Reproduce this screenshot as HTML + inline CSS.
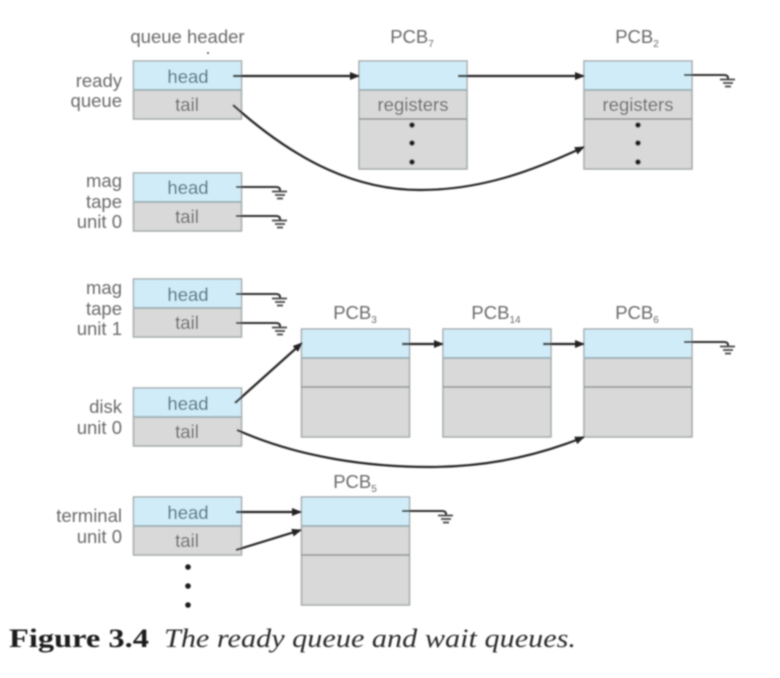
<!DOCTYPE html>
<html>
<head>
<meta charset="utf-8">
<style>
html,body{margin:0;padding:0;background:#fff;width:780px;height:678px;overflow:hidden}
svg{display:block}
.l{font-family:"Liberation Sans",sans-serif;font-size:18.5px;fill:#6a6a6a}
.h{font-family:"Liberation Sans",sans-serif;font-size:18.5px;fill:#4a6c7e;text-anchor:middle}
.t{font-family:"Liberation Sans",sans-serif;font-size:18.5px;fill:#666;text-anchor:middle}
.r{text-anchor:end}
.m{text-anchor:middle}
.s{font-size:10px}
</style>
</head>
<body>
<svg width="780" height="678" viewBox="0 0 780 678" xmlns="http://www.w3.org/2000/svg">
<defs>
<filter id="b" x="-5%" y="-5%" width="110%" height="110%"><feGaussianBlur stdDeviation="0.7"/></filter>
<marker id="a" markerWidth="10" markerHeight="8" refX="9" refY="4" orient="auto" markerUnits="userSpaceOnUse"><path d="M0 0L10 4L0 8Z" fill="#222"/></marker>
<g id="g"><path d="M0 0H40Q44 0 44 3V4" fill="none" stroke="#2e2e2e" stroke-width="2"/><path d="M36 4.500H51M39 8H49M41 11.500H47" stroke="#444" stroke-width="1.800" fill="none"/></g>
<g id="q"><rect x="0" y="0" width="108" height="58" fill="#d9d9d9" stroke="#a3a9aa" stroke-width="1.500"/><rect x="0.700" y="0.700" width="106.600" height="28" fill="#d0ecf8"/><path d="M0 29H108" stroke="#9fb1b7" stroke-width="2"/></g>
<g id="p"><rect x="0" y="0" width="108" height="108" fill="#d9d9d9" stroke="#a3a9aa" stroke-width="1.500"/><rect x="0.700" y="0.700" width="106.600" height="28" fill="#d0ecf8"/><path d="M0 29H108" stroke="#9fb1b7" stroke-width="2"/><path d="M0 58H108" stroke="#8e9293" stroke-width="1.600"/></g>
</defs>
<rect width="780" height="678" fill="#fff"/>
<g filter="url(#b)">
<use href="#q" x="133.500" y="61"/>
<use href="#q" x="133.500" y="173"/>
<use href="#q" x="133.500" y="279"/>
<use href="#q" x="133.500" y="388"/>
<use href="#q" x="133.500" y="497"/>
<use href="#p" x="359" y="61"/>
<use href="#p" x="584" y="61"/>
<use href="#p" x="301.500" y="329"/>
<use href="#p" x="443" y="329"/>
<use href="#p" x="584" y="329"/>
<use href="#p" x="301.500" y="497"/>

<g>
<text class="l m" x="187.500" y="43">queue header</text>
<text class="l m" x="412" y="43">PCB<tspan class="s" dy="4">7</tspan></text>
<text class="l m" x="637" y="43">PCB<tspan class="s" dy="4">2</tspan></text>
<text class="l m" x="355" y="319">PCB<tspan class="s" dy="4">3</tspan></text>
<text class="l m" x="496" y="319">PCB<tspan class="s" dy="4">14</tspan></text>
<text class="l m" x="637" y="319">PCB<tspan class="s" dy="4">6</tspan></text>
<text class="l m" x="355" y="488">PCB<tspan class="s" dy="4">5</tspan></text>

<text class="l r" x="122" y="87">ready</text>
<text class="l r" x="122" y="107">queue</text>
<text class="l r" x="122" y="187">mag</text>
<text class="l r" x="122" y="208">tape</text>
<text class="l r" x="122" y="228">unit 0</text>
<text class="l r" x="122" y="294">mag</text>
<text class="l r" x="122" y="315">tape</text>
<text class="l r" x="122" y="335">unit 1</text>
<text class="l r" x="122" y="413">disk</text>
<text class="l r" x="122" y="434">unit 0</text>
<text class="l r" x="122" y="522">terminal</text>
<text class="l r" x="122" y="543">unit 0</text>

<text class="h" x="188" y="83">head</text><text class="t" x="187" y="111">tail</text>
<text class="h" x="188" y="194">head</text><text class="t" x="187" y="223">tail</text>
<text class="h" x="188" y="301">head</text><text class="t" x="187" y="329">tail</text>
<text class="h" x="188" y="410">head</text><text class="t" x="187" y="438">tail</text>
<text class="h" x="188" y="519">head</text><text class="t" x="187" y="547">tail</text>

<text class="t" x="413" y="111">registers</text>
<text class="t" x="638" y="111">registers</text>
</g>

<g fill="#1c1c1c">
<circle cx="412" cy="125" r="2.800"/><circle cx="412" cy="143" r="2.800"/><circle cx="412" cy="162" r="2.800"/>
<circle cx="638" cy="125" r="2.800"/><circle cx="638" cy="143" r="2.800"/><circle cx="638" cy="162" r="2.800"/>
<circle cx="188" cy="567" r="2.800"/><circle cx="188" cy="586" r="2.800"/><circle cx="188" cy="605" r="2.800"/>
<circle cx="208" cy="53" r="0.900"/>
</g>

<g fill="none" stroke="#262626" stroke-width="2.200">
<path d="M233 76H359" marker-end="url(#a)"/>
<path d="M458 76H584" marker-end="url(#a)"/>
<path d="M233 105C300 165 360 190 420 190C480 190 530 172 584 147" marker-end="url(#a)"/>
<path d="M402 344H443" marker-end="url(#a)"/>
<path d="M543 344H584" marker-end="url(#a)"/>
<path d="M235 403L302 343" marker-end="url(#a)"/>
<path d="M237 430C300 458 370 467 430 467C490 467 540 455 584 437" marker-end="url(#a)"/>
<path d="M236 512H301" marker-end="url(#a)"/>
<path d="M236 550L301 530" marker-end="url(#a)"/>
</g>
<use href="#g" x="684" y="75"/>
<use href="#g" x="236" y="187"/>
<use href="#g" x="236" y="216"/>
<use href="#g" x="236" y="294"/>
<use href="#g" x="236" y="323"/>
<use href="#g" x="684" y="342"/>
<use href="#g" x="402" y="511"/>

<text x="9" y="647" font-family="Liberation Serif,serif" font-size="26" font-weight="bold" fill="#1c1c1c" textLength="140" lengthAdjust="spacingAndGlyphs">Figure 3.4</text>
<text x="164" y="647" font-family="Liberation Serif,serif" font-size="26" font-style="italic" fill="#2a2a2a" textLength="412" lengthAdjust="spacingAndGlyphs">The ready queue and wait queues.</text>
</g>
</svg>
</body>
</html>
